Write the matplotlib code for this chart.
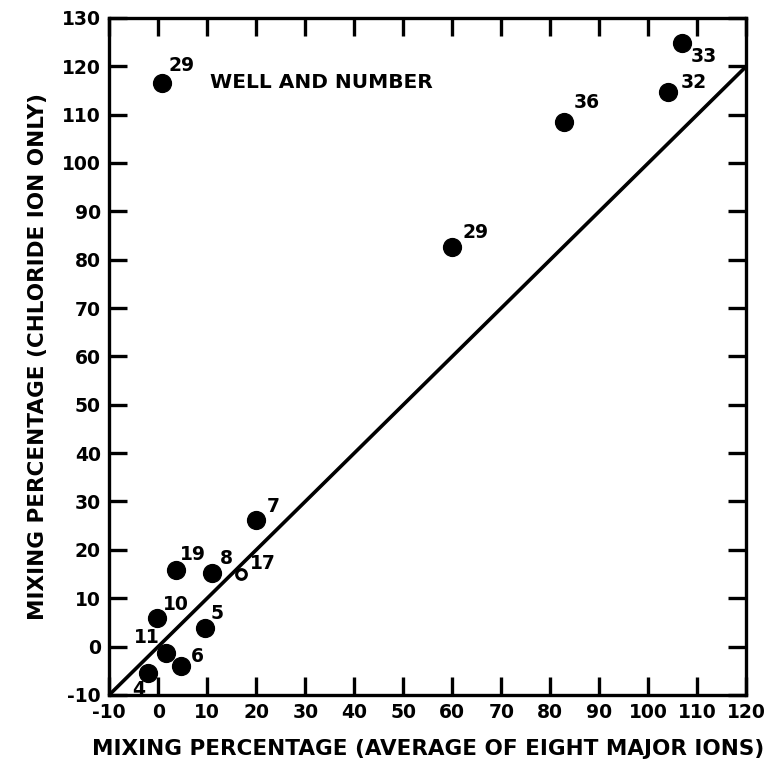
import matplotlib.pyplot as plt

# Номера скважин и значения (средний по восьми ионам / только хлорид)
wells = ["29", "33", "32", "36", "29", "7", "19", "8", "10", "5", "11", "6", "4"]
avg_ions = [0.8, 106.9, 104.1, 82.7, 60.0, 20.0, 3.7, 11.0, -0.2, 9.6, 1.6, 4.7, -2.0]
chloride = [116.6, 124.8, 114.7, 108.5, 82.6, 26.2, 15.9, 15.2, 5.9, 3.9, -1.3, -4.0, -5.4]

# Скважина 17 нарисована отдельно - маленький пустой кружок
open_well = "17"
open_x = 16.8
open_y = 15.0

line_x = [-10, 120]
line_y = [-10, 120]

# Смещения подписей (в пикселях) относительно точки
offsets = [(19, 17), (22, -13), (25, 9), (23, 19), (23, 15), (17, 13), (17, 15),
           (14, 15), (19, 13), (12, 14), (-19, 15), (16, 9), (-10, -17)]

plt.rcParams['font.family'] = ['DejaVu Sans']
plt.rcParams['font.weight'] = 'bold'
plt.rcParams['axes.unicode_minus'] = False

fig = plt.figure(figsize=(7.75, 7.79), dpi=100)
ax = fig.add_axes([0.141, 0.108, 0.822, 0.869])

ax.plot(line_x, line_y, color='black', linewidth=2.6, solid_capstyle='butt', zorder=2)
ax.scatter(avg_ions, chloride, s=165, color='black', zorder=3)
ax.plot([open_x], [open_y], 'o', markersize=7, markerfacecolor='white',
        markeredgecolor='black', markeredgewidth=2.2, zorder=4)

for name, x, y, (dx, dy) in zip(wells, avg_ions, chloride, offsets):
    ax.annotate(name, (x, y), xytext=(dx, dy), textcoords='offset pixels',
                ha='center', va='center', fontsize=13.5, fontweight='bold')
ax.annotate(open_well, (open_x, open_y), xytext=(22, 10), textcoords='offset pixels',
            ha='center', va='center', fontsize=13.5, fontweight='bold')

ax.text(10.6, 116.6, "WELL AND NUMBER", ha='left', va='center', fontsize=14.5, fontweight='bold')

ax.set_xlim(-10, 120)
ax.set_ylim(-10, 130)
ax.set_xticks(range(-10, 121, 10))
ax.set_yticks(range(-10, 131, 10))

for s in ax.spines.values():
    s.set_linewidth(2.4)

ax.tick_params(axis='both', which='major', direction='in', length=13, width=2.4,
               labelsize=13.5, top=True, right=True, pad=6)
for lab in ax.get_xticklabels() + ax.get_yticklabels():
    lab.set_fontweight('bold')

ax.set_xlabel("MIXING PERCENTAGE (AVERAGE OF EIGHT MAJOR IONS)", fontsize=15.5,
              fontweight='bold', labelpad=12)
ax.set_ylabel("MIXING PERCENTAGE (CHLORIDE ION ONLY)", fontsize=15.5,
              fontweight='bold', labelpad=10)

plt.savefig("out.png", dpi=100)
